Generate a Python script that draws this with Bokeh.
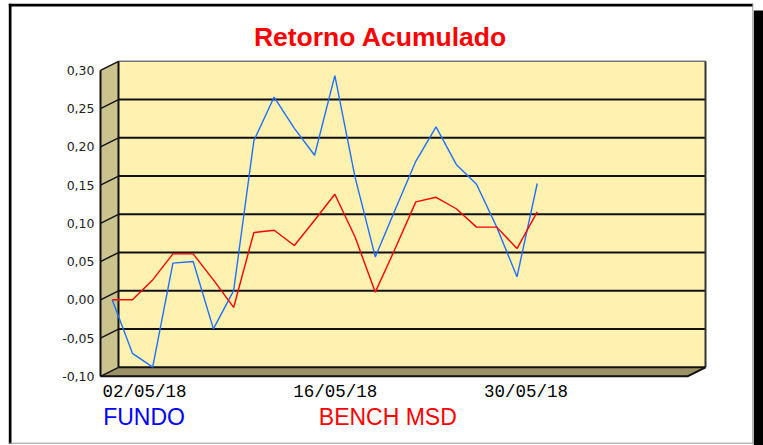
from datetime import datetime, timedelta

from bokeh.plotting import figure
from bokeh.models import Range1d, ColumnDataSource
from bokeh.core.properties import value
from bokeh.embed import file_html
from bokeh.resources import INLINE

# ---------------- data ----------------
DATES = ["30/04/18", "02/05/18", "03/05/18", "04/05/18", "07/05/18", "08/05/18",
         "09/05/18", "10/05/18", "11/05/18", "14/05/18", "15/05/18", "16/05/18",
         "17/05/18", "18/05/18", "21/05/18", "22/05/18", "23/05/18", "24/05/18",
         "25/05/18", "28/05/18", "29/05/18", "30/05/18"]
FUNDO = [0.000, -0.070, -0.088, 0.048, 0.050, -0.038, 0.012, 0.208, 0.265, 0.224,
         0.189, 0.293, 0.160, 0.056, 0.119, 0.181, 0.226, 0.177, 0.151, 0.095,
         0.030, 0.152]
BENCH = [0.000, 0.000, 0.026, 0.060, 0.060, 0.026, -0.010, 0.088, 0.091, 0.071,
         0.104, 0.138, 0.082, 0.010, 0.068, 0.128, 0.134, 0.119, 0.095, 0.095,
         0.067, 0.115]
Y_TICKS = [-0.10, -0.05, 0.00, 0.05, 0.10, 0.15, 0.20, 0.25, 0.30]
X_TICK_LABELS = ["02/05/18", "16/05/18", "30/05/18"]
TITLE = "Retorno Acumulado"
SERIES_NAMES = ["FUNDO", "BENCH MSD"]
SERIES_COLORS = ["#0000FF", "#FF0000"]

# ---------------- layout (pixels) ----------------
W, H = 763, 445
X0_PX, PX_PER_IDX = 111.7, 20.24      # where index 0 sits, spacing of points
Y0_PX, PX_PER_UNIT = 299.3, 765.0     # where value 0 sits, pixels per unit
DEPTH_X, DEPTH_Y = 18, 9              # oblique 3D depth of the walls
BOX_L, BOX_R = 100, 705               # front-left edge, back-right edge
CAL_ANCHOR_PX, CAL_PX_PER_DAY = 144.0, 13.625


def xd(px):
    return (px - X0_PX) / PX_PER_IDX


def yd(py):
    return (Y0_PX - py) / PX_PER_UNIT


p = figure(width=W, height=H, output_backend="svg", toolbar_location=None,
           x_range=Range1d(xd(0), xd(W)), y_range=Range1d(yd(H), yd(0)),
           x_axis_location=None, y_axis_location=None, min_border=0)
p.grid.visible = False
p.outline_line_color = None
p.background_fill_color = "white"
p.border_fill_color = "white"

# calendar scale used by the date labels of the bottom axis
anchor = datetime(2018, 5, 2)


def cal(px):
    return anchor + timedelta(days=(px - CAL_ANCHOR_PX) / CAL_PX_PER_DAY)


p.extra_x_ranges = {"cal": Range1d(cal(0), cal(W))}

# ---------------- 3D box ----------------
ymin, ymax = Y_TICKS[0], Y_TICKS[-1]
dxi = DEPTH_X / PX_PER_IDX
dyv = DEPTH_Y / PX_PER_UNIT
xfl = xd(BOX_L)
xbr = xd(BOX_R)

p.quad(left=xfl + dxi, right=xbr, bottom=ymin + dyv, top=ymax + dyv,
       fill_color="#FFF2B0", line_color=None)
p.patch([xfl, xfl, xfl + dxi, xfl + dxi], [ymin, ymax, ymax + dyv, ymin + dyv],
        fill_color="#CBC38D", line_color=None)
p.patch([xfl, xfl + dxi, xbr, xbr - dxi], [ymin, ymin + dyv, ymin + dyv, ymin],
        fill_color="#9A9266", line_color=None)

grid_t = Y_TICKS[1:-1]
p.segment(x0=[xfl + dxi] * len(grid_t), x1=[xbr] * len(grid_t),
          y0=[t + dyv for t in grid_t], y1=[t + dyv for t in grid_t],
          line_color="#111111", line_width=2)
p.segment(x0=[xfl] * len(Y_TICKS), x1=[xfl + dxi] * len(Y_TICKS),
          y0=Y_TICKS, y1=[t + dyv for t in Y_TICKS],
          line_color="#111111", line_width=1.5)
# wall edges
p.line([xfl + dxi, xbr], [ymax + dyv, ymax + dyv], line_color="#777777", line_width=1.5)
p.line([xbr, xbr], [ymax + dyv, ymin + dyv], line_color="#333333", line_width=2)
p.line([xfl + dxi, xfl + dxi], [ymax + dyv, ymin + dyv], line_color="#111111", line_width=2)
p.line([xfl + dxi, xbr], [ymin + dyv, ymin + dyv], line_color="#111111", line_width=2)
p.line([xfl, xfl], [ymax, ymin], line_color="#111111", line_width=2)
p.line([xfl, xbr - dxi, xbr], [ymin, ymin, ymin + dyv], line_color="#111111", line_width=2)

# ---------------- series ----------------
src = ColumnDataSource(dict(i=list(range(len(DATES))), d=DATES, f=FUNDO, b=BENCH))
p.line("i", "f", source=src, line_color="#1F6FFF", line_width=1.4)
p.line("i", "b", source=src, line_color="#FF0000", line_width=1.4)

# ---------------- axis labels ----------------
p.text(x=[xd(BOX_L - 6)] * len(Y_TICKS), y=Y_TICKS,
       text=[f"{t:.2f}".replace(".", ",") for t in Y_TICKS],
       text_align="right", text_baseline="middle", text_font=value("DejaVu Sans"),
       text_font_size="12.5px", text_color="#222222")

epoch = datetime(1970, 1, 1)
tick_ms = [(datetime.strptime(s, "%d/%m/%y") - epoch).total_seconds() * 1000
           for s in X_TICK_LABELS]
p.text(x=tick_ms, y=[yd(391)] * len(tick_ms), text=X_TICK_LABELS, x_range_name="cal",
       text_align="center", text_baseline="middle", text_font=value("Liberation Mono"),
       text_font_size="17.5px", text_color="#000000")

# ---------------- title & legend ----------------
p.text(x=[xd(380)], y=[yd(36.4)], text=[TITLE], text_align="center",
       text_baseline="middle", text_font=value("Liberation Sans"),
       text_font_style="bold", text_font_size="26.5px", text_color="#FF0000")
p.text(x=[xd(102.7), xd(318.3)], y=[yd(416.8)] * 2, text=SERIES_NAMES,
       text_align="left", text_baseline="middle", text_font=value("Liberation Sans"),
       text_font_size="23px", text_color=SERIES_COLORS)

# ---------------- outer panel border ----------------
p.quad(left=[xd(8.3), xd(8.3), xd(751.8), xd(8.3), xd(753.3)],
       right=[xd(11), xd(752.5), xd(752.8), xd(752.8), xd(763)],
       top=[yd(3.3), yd(3.3), yd(3.3), yd(442.2), yd(10)],
       bottom=[yd(443.5), yd(6), yd(443.2), yd(443.2), yd(445)],
       fill_color=["black", "black", "#999999", "#999999", "black"], line_color=None)

open("out.html", "w").write(file_html(p, INLINE))
